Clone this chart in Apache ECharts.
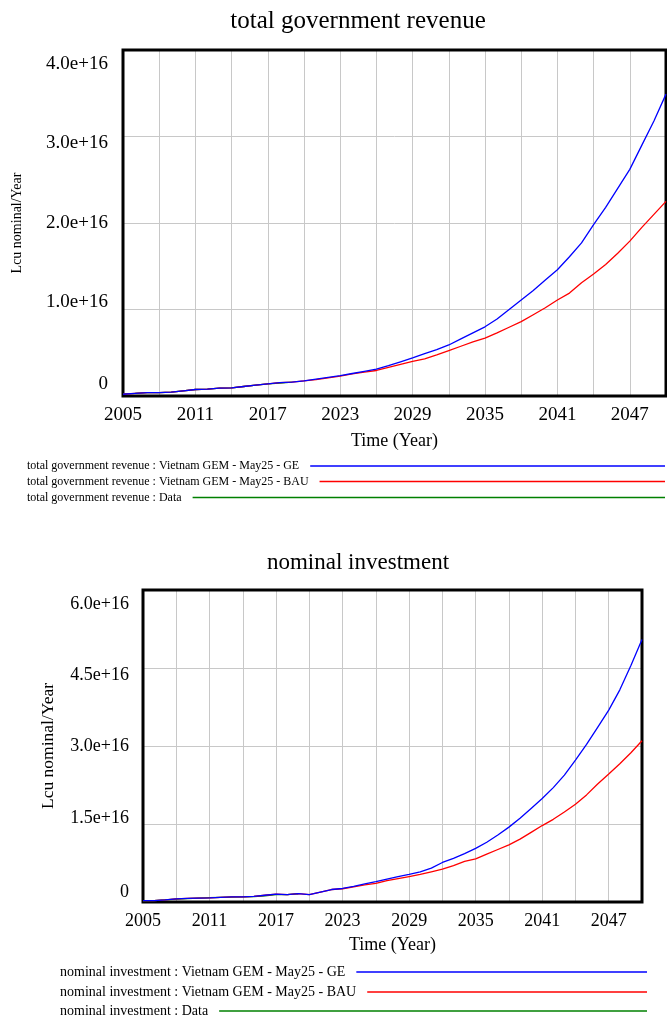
<!DOCTYPE html>
<html><head><meta charset="utf-8">
<script src="https://cdn.jsdelivr.net/npm/echarts@6/dist/echarts.min.js"></script>
<style>html,body{margin:0;padding:0;background:#fff}#c{width:667px;height:1019px}</style>
</head><body><div id="c"></div>
<script>
// ---------- data (values in units of 1e16 Lcu nominal/Year) ----------
const years = ['2005','2006','2007','2008','2009','2010','2011','2012','2013','2014',
  '2015','2016','2017','2018','2019','2020','2021','2022','2023','2024',
  '2025','2026','2027','2028','2029','2030','2031','2032','2033','2034',
  '2035','2036','2037','2038','2039','2040','2041','2042','2043','2044',
  '2045','2046','2047','2048','2049','2050'];
const UNIT = 1e16;

const revGE = [0.02,0.03,0.04,0.04,0.045,0.06,0.075,0.08,0.09,0.095,
  0.11,0.125,0.14,0.155,0.16,0.175,0.195,0.215,0.235,0.26,
  0.285,0.31,0.35,0.395,0.44,0.49,0.535,0.59,0.66,0.73,
  0.80,0.89,1.00,1.11,1.22,1.34,1.46,1.61,1.77,1.98,
  2.18,2.40,2.62,2.90,3.18,3.49];
const revBAU = [0.02,0.03,0.04,0.04,0.045,0.06,0.075,0.08,0.09,0.095,
  0.11,0.125,0.14,0.155,0.16,0.175,0.19,0.21,0.23,0.255,
  0.275,0.295,0.33,0.365,0.40,0.43,0.475,0.525,0.575,0.625,
  0.67,0.73,0.795,0.86,0.94,1.02,1.11,1.19,1.31,1.41,
  1.52,1.65,1.79,1.95,2.10,2.25];
const revData = [0.025,0.03,0.04,0.04,0.045,0.06,0.075,0.08,0.09,0.095,
  0.11,0.125,0.14,0.15,0.16];

const invGE = [0.025,0.025,0.04,0.06,0.07,0.075,0.08,0.09,0.10,0.10,
  0.11,0.13,0.15,0.14,0.16,0.14,0.19,0.24,0.26,0.30,
  0.35,0.39,0.44,0.49,0.53,0.58,0.65,0.76,0.84,0.93,
  1.03,1.15,1.29,1.44,1.61,1.80,1.99,2.20,2.44,2.73,
  3.03,3.36,3.69,4.08,4.55,5.05];
const invBAU = [0.025,0.025,0.04,0.06,0.07,0.075,0.08,0.09,0.10,0.10,
  0.11,0.13,0.15,0.14,0.16,0.14,0.19,0.24,0.255,0.29,
  0.33,0.36,0.41,0.45,0.49,0.53,0.58,0.63,0.70,0.78,
  0.83,0.92,1.01,1.10,1.21,1.34,1.47,1.59,1.73,1.88,
  2.06,2.27,2.46,2.66,2.87,3.10];
const invData = [0.02,0.025,0.04,0.055,0.065,0.075,0.085,0.09,0.095,0.10,
  0.105,0.12,0.14,0.14,0.155];

const revTicks = ['0','1.0e+16','2.0e+16','3.0e+16','4.0e+16'];
const invTicks = ['0','1.5e+16','3.0e+16','4.5e+16','6.0e+16'];

const revNames = ['total government revenue : Vietnam GEM - May25 - GE',
  'total government revenue : Vietnam GEM - May25 - BAU',
  'total government revenue : Data'];
const invNames = ['nominal investment : Vietnam GEM - May25 - GE',
  'nominal investment : Vietnam GEM - May25 - BAU',
  'nominal investment : Data'];
const titles = ['total government revenue', 'nominal investment'];
const yName = 'Lcu nominal/Year';
const xName = 'Time (Year)';

// ---------- helpers ----------
const FONT = '"Liberation Serif", "Times New Roman", serif';
const cv = document.createElement('canvas').getContext('2d');
function textW(s, size) { cv.font = size + 'px ' + FONT; return cv.measureText(s).width; }
const scale = arr => arr.map(v => v * UNIT);
const BLUE = '#0000ff', RED = '#ff0000', GREEN = '#008000';

function legendItem(name, left, y, right, size, pad) {
  const w = textW(name, size);
  const iconStart = left + w + 5 + pad;
  return {
    data: [name], left: left, top: y - size / 2, padding: 0,
    align: 'right', orient: 'horizontal', selectedMode: false,
    icon: 'rect', itemWidth: Math.max(10, right - iconStart), itemHeight: 1.4,
    textStyle: { fontFamily: FONT, fontSize: size, color: '#000', padding: [0, pad, 0, 0] }
  };
}

function yLabel(ticks, step, shifts, size) {
  const rich = {};
  shifts.forEach((s, i) => {
    rich['s' + i] = { fontFamily: FONT, fontSize: size, color: '#000',
      padding: s >= 0 ? [2 * s, 0, 0, 0] : [0, 0, -2 * s, 0] };
  });
  return {
    fontFamily: FONT, fontSize: size, color: '#000',
    rich: rich,
    formatter: (v) => {
      const i = Math.round(v / step);
      return '{s' + i + '|' + ticks[i] + '}';
    }
  };
}

const t1 = 25, t2 = 23;
const option = {
  animation: false,
  backgroundColor: '#fff',
  title: [
    { text: titles[0], left: 358 - textW(titles[0], t1) / 2, top: 21 - t1 / 2, padding: 0,
      textStyle: { fontFamily: FONT, fontSize: t1, fontWeight: 'normal', color: '#000' } },
    { text: titles[1], left: 358 - textW(titles[1], t2) / 2, top: 563 - t2 / 2, padding: 0,
      textStyle: { fontFamily: FONT, fontSize: t2, fontWeight: 'normal', color: '#000' } }
  ],
  grid: [
    { left: 123, top: 50, width: 543, height: 346, show: true, borderColor: '#000', borderWidth: 3, backgroundColor: 'transparent', z: 2 },
    { left: 143, top: 590, width: 499, height: 312, show: true, borderColor: '#000', borderWidth: 3, backgroundColor: 'transparent', z: 2 }
  ],
  xAxis: [0, 1].map(g => ({
    type: 'category', gridIndex: g, data: years, boundaryGap: false,
    name: xName, nameLocation: 'middle', nameGap: g === 0 ? 36 : 34,
    nameTextStyle: { fontFamily: FONT, fontSize: 18, color: '#000' },
    axisLine: { show: false }, axisTick: { show: false },
    axisLabel: { interval: (i) => i % 6 === 0, fontFamily: FONT, fontSize: g === 0 ? 19 : 18, color: '#000', margin: 10 },
    splitLine: { show: true, interval: (i) => i % 3 === 0, lineStyle: { color: '#c8c8c8', width: 1 } }
  })),
  yAxis: [
    { type: 'value', gridIndex: 0, min: 0, max: 4 * UNIT, interval: 1 * UNIT,
      name: yName, nameLocation: 'middle', nameGap: 99,
      nameTextStyle: { fontFamily: FONT, fontSize: 14, color: '#000' },
      axisLine: { show: false }, axisTick: { show: false },
      axisLabel: Object.assign(yLabel(revTicks, 1 * UNIT, [-12, -7, 0, 7, 14], 19), { margin: 15 }),
      splitLine: { show: true, lineStyle: { color: '#c8c8c8', width: 1 } } },
    { type: 'value', gridIndex: 1, min: 0, max: 6 * UNIT, interval: 1.5 * UNIT,
      name: yName, nameLocation: 'middle', nameGap: 86,
      nameTextStyle: { fontFamily: FONT, fontSize: 17.5, color: '#000' },
      axisLine: { show: false }, axisTick: { show: false },
      axisLabel: Object.assign(yLabel(invTicks, 1.5 * UNIT, [-10, -6, 0, 7, 14], 18), { margin: 14 }),
      splitLine: { show: true, lineStyle: { color: '#c8c8c8', width: 1 } } }
  ],
  legend: [
    legendItem(revNames[0], 27, 466, 665, 12, 6),
    legendItem(revNames[1], 27, 481.5, 665, 12, 6),
    legendItem(revNames[2], 27, 497.5, 665, 12, 6),
    legendItem(invNames[0], 60, 972, 647, 14, 6),
    legendItem(invNames[1], 60, 992, 647, 14, 6),
    legendItem(invNames[2], 60, 1011, 647, 14, 6)
  ],
  series: [
    { name: revNames[2], xAxisIndex: 0, yAxisIndex: 0, data: scale(revData), color: GREEN },
    { name: revNames[1], xAxisIndex: 0, yAxisIndex: 0, data: scale(revBAU), color: RED },
    { name: revNames[0], xAxisIndex: 0, yAxisIndex: 0, data: scale(revGE), color: BLUE },
    { name: invNames[2], xAxisIndex: 1, yAxisIndex: 1, data: scale(invData), color: GREEN },
    { name: invNames[1], xAxisIndex: 1, yAxisIndex: 1, data: scale(invBAU), color: RED },
    { name: invNames[0], xAxisIndex: 1, yAxisIndex: 1, data: scale(invGE), color: BLUE }
  ].map(s => Object.assign(s, { type: 'line', showSymbol: false, symbol: 'none',
    lineStyle: { width: 1.3, color: s.color }, itemStyle: { color: s.color }, z: 3 }))
};
const chart = echarts.init(document.getElementById('c'), null, { renderer: 'canvas' });
chart.setOption(option);
</script></body></html>
